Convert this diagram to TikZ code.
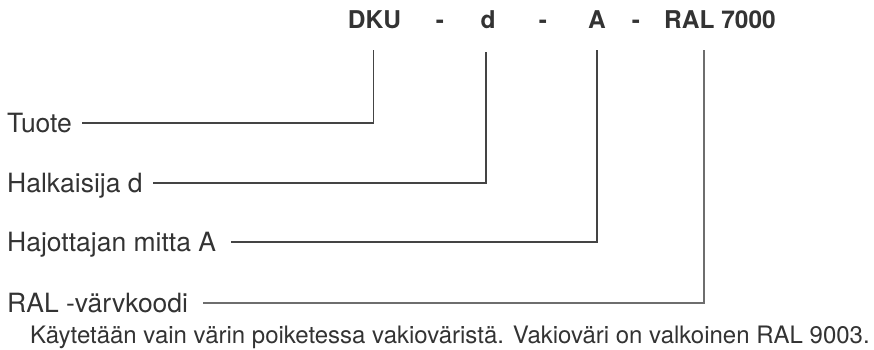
\documentclass[tikz,border=0pt]{standalone}
\usepackage{fontspec}
\setmainfont{TeX Gyre Heros}
\definecolor{txt}{HTML}{333333}
\definecolor{ln}{HTML}{444444}
\definecolor{lnl}{HTML}{6E6E6E}
\begin{document}
\begin{tikzpicture}[x=1pt,y=-1pt,
  code/.style={anchor=base,inner sep=0pt,font=\fontsize{24.5}{28}\selectfont\bfseries,text=txt},
  lab/.style={anchor=base west,inner ysep=0pt,inner xsep=0pt,font=\fontsize{26.5}{30}\selectfont,text=txt,text height=18pt,text depth=0pt},
  conn/.style={draw=ln,line width=1.7pt},
  note/.style={anchor=base west,inner sep=0pt,font=\fontsize{24}{28}\selectfont,text=txt}]
\useasboundingbox (0,0) rectangle (874,349);
% code line
\node[code] (dku) at (374.5,28) {DKU};
\node[code] (m1) at (440,28) {-};
\node[code] (dd) at (488,28) {d};
\node[code] (m2) at (543,28) {-};
\node[code] (aa) at (597,28) {A};
\node[code] (m3) at (636,28) {-};
\node[code,anchor=base west] (ral) at (664,28) {RAL 7000};
% connector tops
\coordinate (t1) at (373.5,50);
\coordinate (t2) at (486,52);
\coordinate (t3) at (597,50);
\coordinate (t4) at (704,50);
% labels
\node[lab] (l1) at (7,132) {Tuote};
\node[lab] (l2) at (7,192) {Halkaisija d};
\node[lab] (l3) at (7,251) {Hajottajan mitta A};
\node[lab] (l4) at (7,312) {RAL -värvkoodi};
\coordinate (e1) at (82,123);
\coordinate (e2) at (153,183);
\coordinate (e3) at (231,242);
\coordinate (e4) at (203,303);
\draw[conn] (t1) |- (e1);
\draw[conn] (t2) |- (e2);
\draw[conn] (t3) |- (e3);
\draw[conn,draw=lnl] (t4) |- (e4);
\node[note] (n) at (30,343) {Käytetään vain värin poiketessa vakioväristä. Vakioväri on valkoinen RAL 9003.};
\end{tikzpicture}
\end{document}
